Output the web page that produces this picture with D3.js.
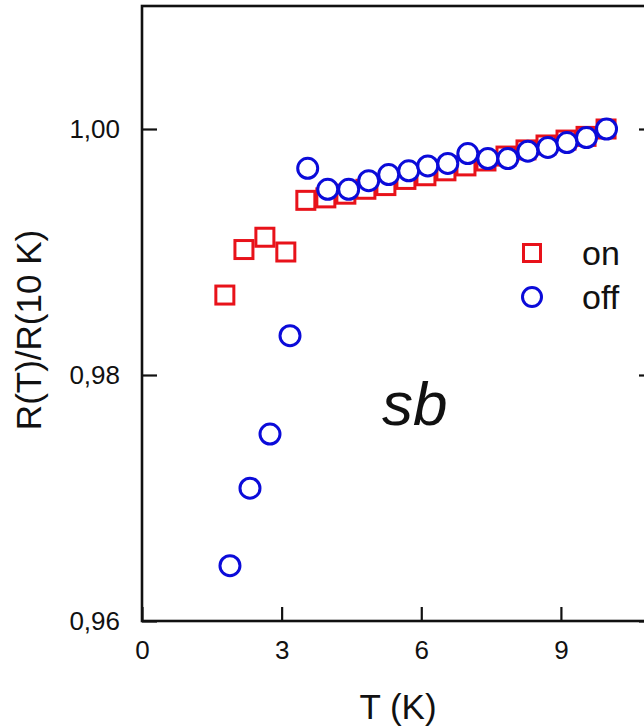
<!DOCTYPE html>
<html>
<head>
<meta charset="utf-8">
<script src="https://cdn.jsdelivr.net/npm/d3@7"></script>
<style>
  html, body { margin: 0; padding: 0; background: #fff; }
  svg { display: block; }
  text { font-family: "Liberation Sans", Arial, sans-serif; fill: #111; }
</style>
</head>
<body>
<svg id="chart" width="644" height="726"></svg>
<script>
// Normalised resistance R(T)/R(10 K) versus temperature, field on / off
const onT = [1.78, 2.19, 2.64, 3.09, 3.52, 3.95, 4.38, 4.81, 5.24, 5.67, 6.10, 6.53, 6.96, 7.39, 7.82, 8.25, 8.68, 9.11, 9.54, 9.97];
const onR = [0.9865, 0.9902, 0.9912, 0.9900, 0.9942, 0.9944, 0.9947, 0.9951, 0.9954, 0.9959, 0.9962, 0.9966, 0.9970, 0.9974, 0.9978, 0.9983, 0.9987, 0.9991, 0.9994, 1.0000];

const offT = [1.89, 2.32, 2.75, 3.18, 3.56, 3.99, 4.44, 4.87, 5.30, 5.73, 6.14, 6.57, 7.00, 7.43, 7.86, 8.29, 8.72, 9.13, 9.55, 9.98];
const offR = [0.9645, 0.9708, 0.9752, 0.9832, 0.9968, 0.9951, 0.9951, 0.9958, 0.9963, 0.9966, 0.9970, 0.9972, 0.9980, 0.9976, 0.9976, 0.9982, 0.9985, 0.9989, 0.9993, 1.0000];

const xTicks = [0, 3, 6, 9];
const yTicks = [0.96, 0.98, 1.00];
const seriesNames = ["on", "off"];
const sampleLabel = "sb";
const xTitle = "T (K)";
const yTitle = "R(T)/R(10 K)";

const RED = "#e8121a";
const BLUE = "#0b0bd9";

const svg = d3.select("#chart");
const m = { left: 142, top: 6, right: 654, bottom: 621 };

const x = d3.scaleLinear().domain([0, 11]).range([m.left, m.right]);
const y = d3.scaleLinear().domain([0.96, 1.01]).range([m.bottom, m.top]);

const commaLocale = d3.formatLocale({ decimal: ",", thousands: ".", grouping: [3], currency: ["", ""] });
const fmtY = commaLocale.format(".2f");

// Axes with inward ticks
const gx = svg.append("g")
  .attr("transform", `translate(0,${m.bottom})`)
  .call(d3.axisBottom(x).tickValues(xTicks).tickSizeInner(-14).tickSizeOuter(0).tickPadding(20).tickFormat(d3.format("d")));

const gy = svg.append("g")
  .attr("transform", `translate(${m.left},0)`)
  .call(d3.axisLeft(y).tickValues(yTicks).tickSizeInner(-15).tickSizeOuter(0).tickPadding(22).tickFormat(fmtY));

const gr = svg.append("g")
  .attr("transform", `translate(${m.right},0)`)
  .call(d3.axisRight(y).tickValues(yTicks).tickSizeInner(-15).tickSizeOuter(0).tickFormat(""));

[gx, gy, gr].forEach(g => {
  g.select(".domain").remove();
  g.selectAll(".tick line").attr("stroke", "#111").attr("stroke-width", 2.2);
  g.selectAll(".tick text").attr("font-size", 26).attr("font-family", "Liberation Sans, Arial, sans-serif").attr("fill", "#111");
});

// Plot frame
svg.append("rect")
  .attr("x", m.left).attr("y", m.top)
  .attr("width", m.right - m.left).attr("height", m.bottom - m.top)
  .attr("fill", "none").attr("stroke", "#111").attr("stroke-width", 2.6);

// Axis titles
svg.append("text")
  .attr("x", (m.left + m.right) / 2).attr("y", 719)
  .attr("text-anchor", "middle").attr("font-size", 35)
  .text(xTitle);

svg.append("text")
  .attr("transform", "translate(41,330) rotate(-90)")
  .attr("text-anchor", "middle").attr("font-size", 35)
  .text(yTitle);

// Data: squares (on) then circles (off)
const side = 18;
svg.append("g").selectAll("rect")
  .data(onT.map((t, i) => [t, onR[i]]))
  .join("rect")
  .attr("x", d => x(d[0]) - side / 2)
  .attr("y", d => y(d[1]) - side / 2)
  .attr("width", side).attr("height", side)
  .attr("fill", "#fff").attr("stroke", RED).attr("stroke-width", 3);

svg.append("g").selectAll("circle")
  .data(offT.map((t, i) => [t, offR[i]]))
  .join("circle")
  .attr("cx", d => x(d[0]))
  .attr("cy", d => y(d[1]))
  .attr("r", 10)
  .attr("fill", "#fff").attr("stroke", BLUE).attr("stroke-width", 3);

// Legend
const lg = svg.append("g");
lg.append("rect").attr("x", 532 - 8.5).attr("y", 253 - 8.5).attr("width", 17).attr("height", 17)
  .attr("fill", "#fff").attr("stroke", RED).attr("stroke-width", 3);
lg.append("circle").attr("cx", 532).attr("cy", 297).attr("r", 9.5)
  .attr("fill", "#fff").attr("stroke", BLUE).attr("stroke-width", 3);
lg.append("text").attr("x", 582).attr("y", 265).attr("font-size", 34).text(seriesNames[0]);
lg.append("text").attr("x", 582).attr("y", 309).attr("font-size", 34).text(seriesNames[1]);

// Sample label
svg.append("text")
  .attr("x", 382).attr("y", 425)
  .attr("font-size", 62).attr("font-style", "italic")
  .text(sampleLabel);
</script>
</body>
</html>
